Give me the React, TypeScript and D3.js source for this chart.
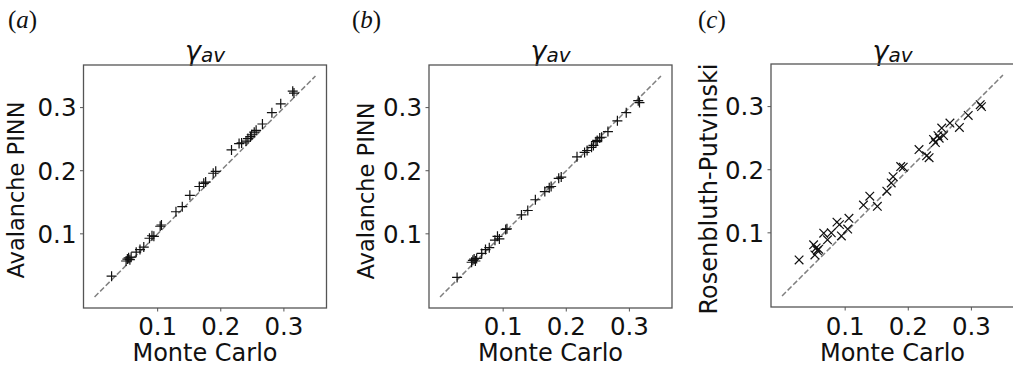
import React from 'react';
import * as d3 from 'd3';

// shared Monte Carlo reference values (x axis of every panel)
const monteCarlo = [
  0.027, 0.050, 0.052, 0.054, 0.056, 0.058, 0.066, 0.072, 0.078, 0.087, 0.091, 0.094,
  0.104, 0.106, 0.129, 0.139, 0.151, 0.166, 0.173, 0.176, 0.188, 0.192, 0.217, 0.229,
  0.233, 0.240, 0.243, 0.247, 0.249, 0.253, 0.256, 0.266, 0.281, 0.295, 0.314, 0.316,
];

// (a) Avalanche PINN
const pinnA = [
  0.033, 0.057, 0.060, 0.062, 0.059, 0.063, 0.071, 0.075, 0.079, 0.093, 0.097, 0.096,
  0.112, 0.114, 0.135, 0.143, 0.161, 0.175, 0.180, 0.182, 0.196, 0.199, 0.233, 0.243,
  0.244, 0.247, 0.251, 0.254, 0.257, 0.261, 0.264, 0.274, 0.292, 0.306, 0.326, 0.323,
];

// (b) Avalanche PINN
const pinnB = [
  0.031, 0.055, 0.058, 0.060, 0.057, 0.061, 0.069, 0.075, 0.078, 0.090, 0.096, 0.092,
  0.107, 0.108, 0.130, 0.137, 0.154, 0.167, 0.173, 0.175, 0.188, 0.190, 0.222, 0.229,
  0.232, 0.237, 0.240, 0.246, 0.248, 0.252, 0.253, 0.262, 0.279, 0.292, 0.311, 0.308,
];

// (c) Rosenbluth-Putvinski
const rosenbluth = [
  0.057, 0.081, 0.065, 0.076, 0.072, 0.074, 0.0995, 0.089, 0.100, 0.117, 0.113, 0.095,
  0.106, 0.123, 0.144, 0.158, 0.142, 0.166, 0.179, 0.189, 0.205, 0.204, 0.232, 0.222,
  0.219, 0.248, 0.243, 0.254, 0.250, 0.266, 0.254, 0.274, 0.267, 0.286, 0.303, 0.300,
];

const tickValues = [0.1, 0.2, 0.3];
const tickLabels = ['0.1', '0.2', '0.3'];
const diagonal = [0, 0.35];

const W = 1013;
const H = 367;
const SIZE = 243;
const FONT = 'DejaVu Sans, sans-serif';
const SPINE = '#555';
const INK = '#111';

type PanelProps = {
  tag: string;
  left: number;
  top: number;
  values: number[];
  ylabel: string;
  ylabelX: number;
  ylabelSize: number;
  ylabelY: number;
  tagX: number;
  marker: 'plus' | 'cross';
};

const Panel = ({ tag, left, top, values, ylabel, ylabelX, ylabelSize, ylabelY, tagX, marker }: PanelProps) => {
  const x = d3.scaleLinear().domain([-0.0175, 0.3675]).range([left, left + SIZE]);
  const y = d3.scaleLinear().domain([-0.0175, 0.3675]).range([top + SIZE, top]);
  const bottom = top + SIZE;
  const cx = left + SIZE / 2;

  const line = d3.line<number>().x(d => x(d)).y(d => y(d))(diagonal) || '';

  const markerPath = (px: number, py: number) => {
    if (marker === 'plus') {
      const r = 5;
      return `M${px - r},${py}H${px + r}M${px},${py - r}V${py + r}`;
    }
    const r = 4.3;
    return `M${px - r},${py - r}L${px + r},${py + r}M${px - r},${py + r}L${px + r},${py - r}`;
  };

  return (
    <g>
      <text x={tagX} y={28} fontFamily="Liberation Serif, Times New Roman, serif" fontSize={25} fill={INK}>
        (<tspan fontStyle="italic">{tag}</tspan>)
      </text>

      <text x={cx} y={60} textAnchor="middle" fontFamily={FONT} fontStyle="italic" fill={INK}>
        <tspan fontSize={27}>γ</tspan>
        <tspan fontSize={20} dy={2}>av</tspan>
      </text>

      <path d={line} fill="none" stroke="#808080" strokeWidth={1.5} strokeDasharray="5.5 2.4" />

      <g stroke={INK} strokeWidth={1.2} fill="none">
        {monteCarlo.map((mc, i) => (
          <path key={i} d={markerPath(x(mc), y(values[i]))} />
        ))}
      </g>

      <rect x={left} y={top} width={SIZE} height={SIZE} fill="none" stroke={SPINE} strokeWidth={1.3} />

      {tickValues.map((t, i) => (
        <g key={`x${i}`}>
          <line x1={x(t)} x2={x(t)} y1={bottom} y2={bottom + 3.5} stroke={SPINE} strokeWidth={1} />
          <text x={x(t)} y={335} textAnchor="middle" fontFamily={FONT} fontSize={24.5} fill={INK}>
            {tickLabels[i]}
          </text>
        </g>
      ))}
      {tickValues.map((t, i) => (
        <g key={`y${i}`}>
          <line x1={left - 3.5} x2={left} y1={y(t)} y2={y(t)} stroke={SPINE} strokeWidth={1} />
          <text x={left - 7} y={y(t)} dy="0.36em" textAnchor="end" fontFamily={FONT} fontSize={24.5} fill={INK}>
            {tickLabels[i]}
          </text>
        </g>
      ))}

      <text x={cx} y={361} textAnchor="middle" fontFamily={FONT} fontSize={24} fill={INK}>
        Monte Carlo
      </text>
      <text
        transform={`translate(${ylabelX},${ylabelY}) rotate(-90)`}
        textAnchor="middle"
        fontFamily={FONT}
        fontSize={ylabelSize}
        fill={INK}
      >
        {ylabel}
      </text>
    </g>
  );
};

export default function App() {
  return (
    <svg
      width={W}
      height={H}
      viewBox={`0 0 ${W} ${H}`}
      style={{ position: 'absolute', left: 0, top: 0, background: '#fff' }}
    >
      <rect width={W} height={H} fill="#fff" />
      <Panel tag="a" left={83.5} top={65} values={pinnA} ylabel="Avalanche PINN"
        ylabelX={24} ylabelY={190} ylabelSize={22.5} tagX={8} marker="plus" />
      <Panel tag="b" left={429} top={65} values={pinnB} ylabel="Avalanche PINN"
        ylabelX={374} ylabelY={191} ylabelSize={22.5} tagX={352} marker="plus" />
      <Panel tag="c" left={771} top={64} values={rosenbluth} ylabel="Rosenbluth-Putvinski"
        ylabelX={717} ylabelY={189} ylabelSize={24} tagX={698} marker="cross" />
    </svg>
  );
}
